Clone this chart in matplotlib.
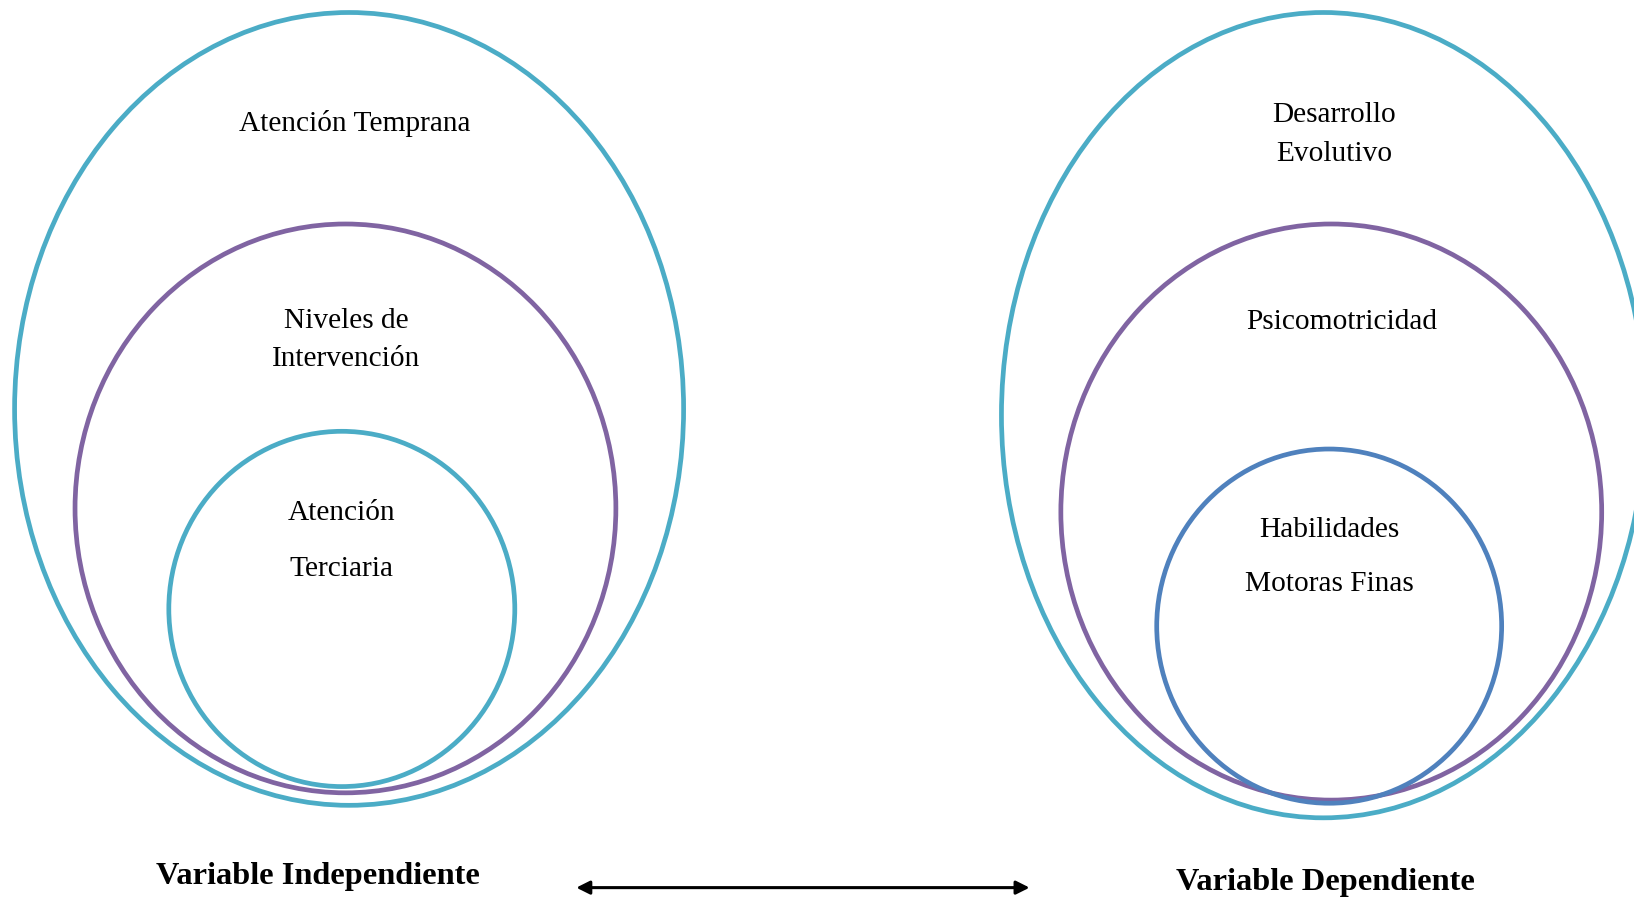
import matplotlib.pyplot as plt
from matplotlib.patches import Ellipse

# Labels of the nested sets (one entry per text line)
left_labels = ["Atención Temprana", "Niveles de", "Intervención", "Atención", "Terciaria"]
right_labels = ["Desarrollo", "Evolutivo", "Psicomotricidad", "Habilidades", "Motoras Finas"]
bottom_labels = ["Variable Independiente", "Variable Dependiente"]

# Ellipse geometry (center x, center y, width, height) in page pixels
left_shapes = [(335, 392.5, 642, 761), (331.5, 488, 519, 546), (328, 584.5, 332, 341)]
right_shapes = [(1270, 398.5, 618, 773), (1277.5, 491.5, 519, 553), (1275.5, 601, 331, 340)]
left_colors = ["#4BACC6", "#8064A2", "#4BACC6"]
right_colors = ["#4BACC6", "#8064A2", "#4F81BD"]
left_text_pos = [(340, 119), (332, 308), (332, 345), (328, 492), (328, 546)]
right_text_pos = [(1280, 110), (1280, 148), (1288, 309), (1276, 509), (1276, 561)]

plt.rcParams['font.family'] = ['Liberation Serif', 'DejaVu Serif']

fig = plt.figure(figsize=(16.34, 8.97), dpi=100)
ax = fig.add_axes([0, 0, 1, 1])
ax.set_xlim(0, 1568)
ax.set_ylim(861, 0)
ax.axis("off")

for shapes, colors in [(left_shapes, left_colors), (right_shapes, right_colors)]:
    for (cx, cy, w, h), c in zip(shapes, colors):
        ax.add_patch(Ellipse((cx, cy), w, h, fill=False, edgecolor=c, lw=3.4))

for labels, pos in [(left_labels, left_text_pos), (right_labels, right_text_pos)]:
    for txt, (x, y) in zip(labels, pos):
        ax.text(x, y, txt, ha="center", va="center", fontsize=21.2, color="black")

ax.text(305, 841, bottom_labels[0], ha="center", va="center",
        fontsize=23.3, fontweight="bold")
ax.text(1272, 847, bottom_labels[1], ha="center", va="center",
        fontsize=23.3, fontweight="bold")

# Double-headed arrow between the two variables
ax.annotate("", xy=(988, 852), xytext=(553, 852),
            arrowprops=dict(arrowstyle="<|-|>", color="black", lw=2.2,
                            mutation_scale=20, shrinkA=0, shrinkB=0))

fig.savefig("out.png", dpi=100)
